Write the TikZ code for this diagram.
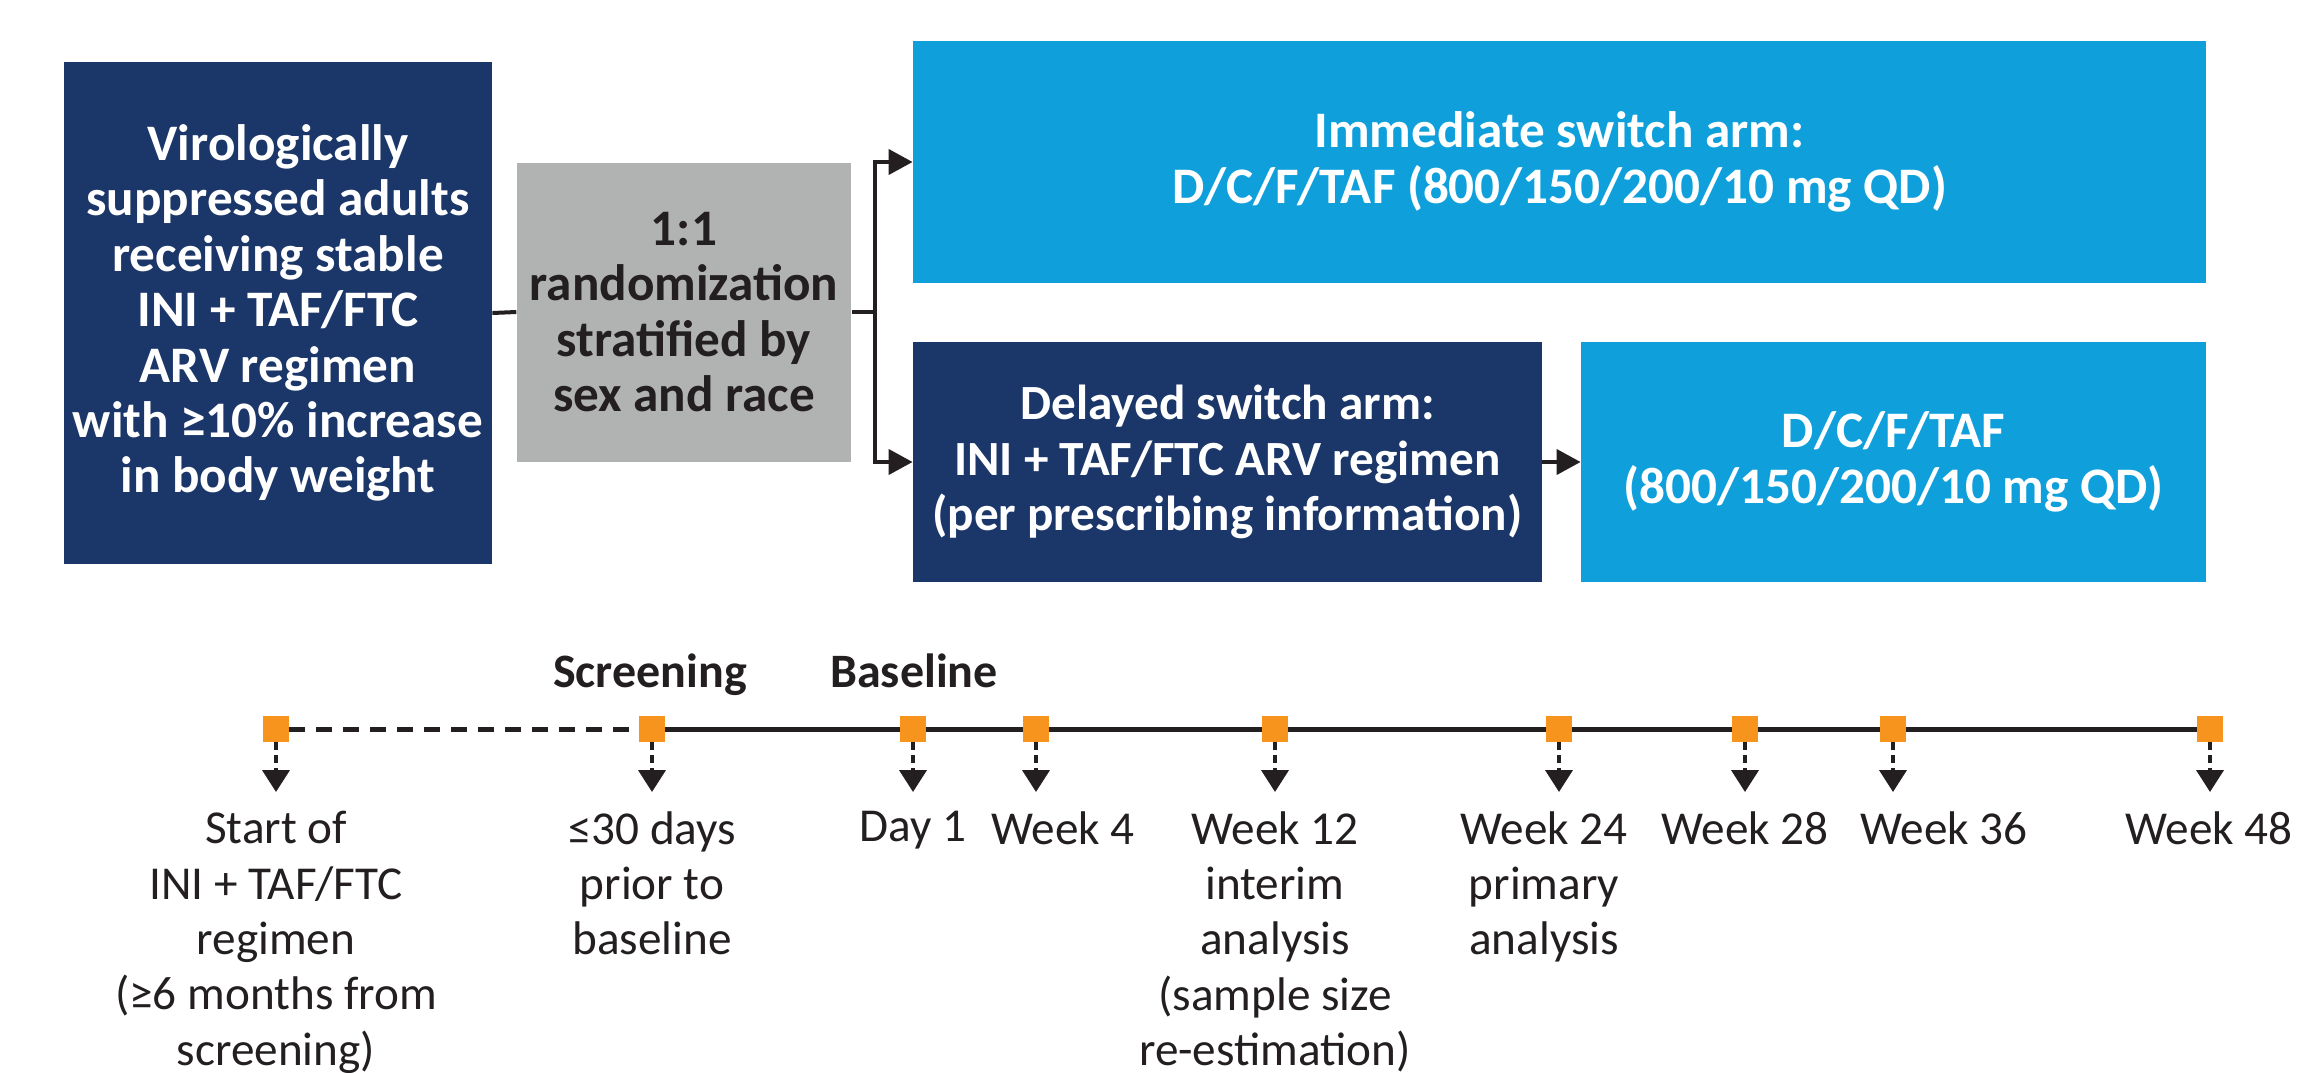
\documentclass[tikz,border=0pt]{standalone}
\usepackage{fontspec}
\setmainfont{Carlito}
\usetikzlibrary{arrows.meta}
\definecolor{navy}{HTML}{1B3668}
\definecolor{skyb}{HTML}{0FA0DC}
\definecolor{grayb}{HTML}{B1B2B2}
\definecolor{orng}{HTML}{F7941D}
\definecolor{ink}{HTML}{231F20}
\begin{document}
\begin{tikzpicture}[x=0.5pt,y=-0.5pt,
  boxtxt/.style={rectangle, inner sep=0pt, align=center, font=\bfseries\fontsize{25.6}{27.7}\selectfont},
  navybox/.style={boxtxt, fill=navy, text=white},
  bluebox/.style={boxtxt, fill=skyb, text=white},
  graybox/.style={boxtxt, fill=grayb, text=ink},
  conn/.style={draw=ink, line width=2pt},
  arr/.style={conn, -{Triangle[length=12pt,width=12.5pt]}},
  tick/.style={rectangle, fill=orng, minimum width=13pt, minimum height=13pt, inner sep=0pt},
  tline/.style={draw=ink, line width=2.5pt},
  tdash/.style={tline, dash pattern=on 8pt off 5.5pt},
  darr/.style={draw=ink, line width=2pt, dash pattern=on 4pt off 2.5pt, -{Triangle[length=11pt,width=13.5pt]}},
  tlab/.style={anchor=north, inner sep=0pt, align=center, text=ink, font=\fontsize{23.6}{27.7}\selectfont},
  phase/.style={anchor=base, inner sep=0pt, text=ink, font=\bfseries\fontsize{24}{28}\selectfont}
]
\useasboundingbox[fill=white] (0,0) rectangle (2298,1072);

% boxes
\node[navybox, minimum width=214pt, minimum height=251pt] (pop) at (278,313)
  {Virologically\\suppressed adults\\receiving stable\\INI + TAF/FTC\\ARV regimen\\with ≥10\% increase\\in body weight};
\node[graybox, minimum width=167.3pt, minimum height=149.5pt] (rand) at (684,312)
  {1:1\\randomization\\stratified by\\sex and race};
\node[bluebox, minimum width=646.5pt, minimum height=121pt] (imm) at (1559.5,162)
  {Immediate switch arm:\\D/C/F/TAF (800/150/200/10 mg QD)};
\node[navybox, minimum width=314.5pt, minimum height=120.25pt, font=\bfseries\fontsize{24.6}{27.7}\selectfont] (del) at (1227.5,462)
  {Delayed switch arm:\\INI + TAF/FTC ARV regimen\\(per prescribing information)};
\node[bluebox, minimum width=312.5pt, minimum height=120.25pt] (rt) at (1893.5,462)
  {D/C/F/TAF\\(800/150/200/10 mg QD)};

% connectors
\coordinate (split) at (875,312);
\draw[conn] (pop.east) -- (rand.west);
\draw[conn] (rand.east) -- (split);
\draw[arr] (split) |- (imm.west);
\draw[arr] (split) |- (del.west);
\draw[arr] (del.east) -- (rt.west);

% timeline ticks
\foreach \n/\x in {1/276,2/652,3/913,4/1036,5/1275,6/1559,7/1745,8/1893,9/2210}{
  \node[tick] (t\n) at (\x,729) {};
  \coordinate (a\n) at (\x,792);
}
\draw[tdash] (t1.east) -- (t2.west);
\foreach \a/\b in {2/3,3/4,4/5,5/6,6/7,7/8,8/9}{
  \draw[tline] (t\a.east) -- (t\b.west);
}
\foreach \n in {1,...,9}{
  \draw[darr] (t\n.south) -- (a\n);
}

% phase labels
\node[phase] (scr) at (650,687) {Screening};
\node[phase] (bsl) at (914,687) {Baseline};

% timeline labels
\node[tlab] (l1) at (276,811) {Start of\\INI + TAF/FTC\\regimen\\(≥6 months from\\screening)};
\node[tlab] (l2) at (652,811) {≤30 days\\prior to\\baseline};
\node[tlab] (l3) at (913,811) {Day 1};
\node[tlab] (l4) at (1063,811) {Week 4};
\node[tlab] (l5) at (1275,811) {Week 12\\interim\\analysis\\(sample size\\re-estimation)};
\node[tlab] (l6) at (1544,811) {Week 24\\primary\\analysis};
\node[tlab] (l7) at (1745,811) {Week 28};
\node[tlab] (l8) at (1944,811) {Week 36};
\node[tlab] (l9) at (2209,811) {Week 48};
\end{tikzpicture}
\end{document}
